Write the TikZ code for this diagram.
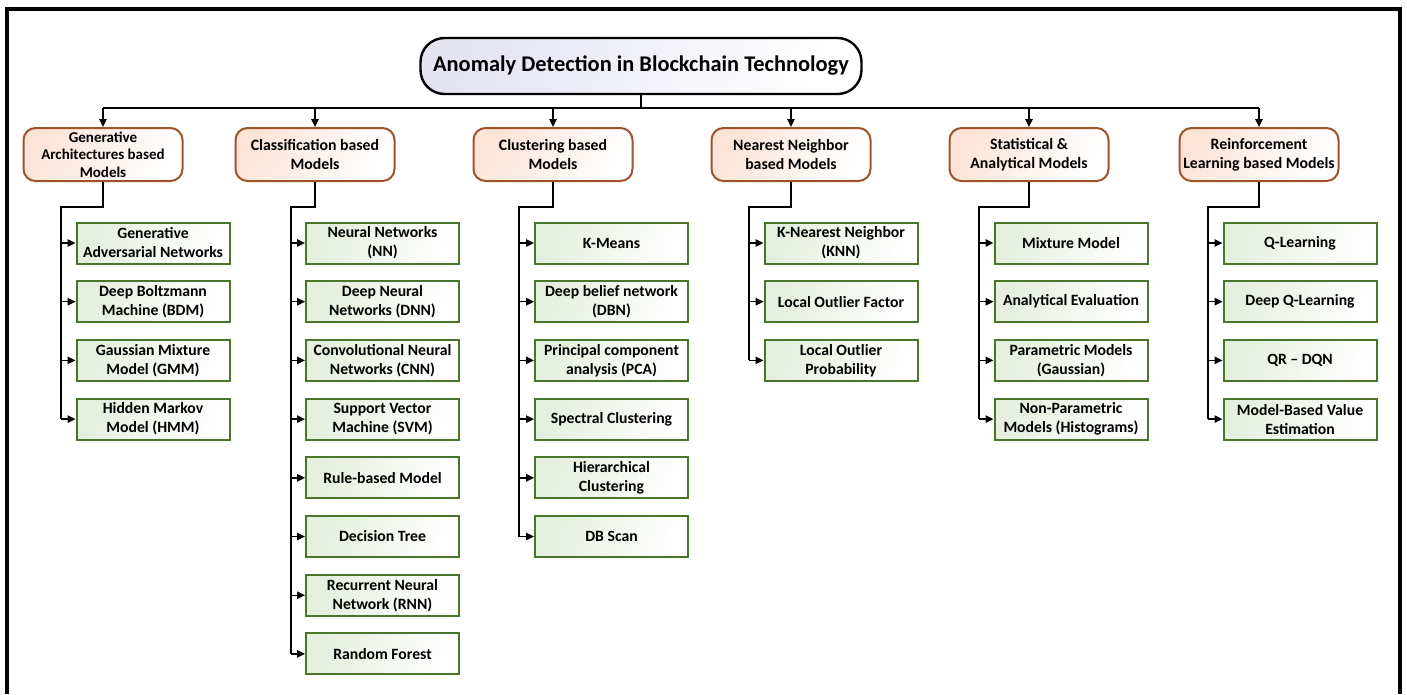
\documentclass[tikz,border=0pt]{standalone}
\usepackage{fontspec}
\setmainfont{Carlito}
\usetikzlibrary{arrows.meta}

\definecolor{leafline}{RGB}{74,118,44}
\definecolor{leaffill}{RGB}{228,239,221}
\definecolor{catline}{RGB}{160,82,40}
\definecolor{catfill}{RGB}{252,228,214}
\definecolor{rootfill}{RGB}{228,228,243}

\tikzset{
  x=1pt, y=-1pt,
  rootbox/.style={draw=black, line width=2.4pt, rounded corners=24pt,
    left color=rootfill, right color=white, shading angle=70,
    minimum width=441pt, minimum height=56pt, align=center,
    font=\fontsize{22.4}{26}\selectfont\bfseries},
  catbox/.style={draw=catline, line width=2pt, rounded corners=12pt,
    left color=catfill, right color=white, shading angle=60,
    minimum width=159pt, minimum height=53pt, align=center, inner sep=1pt,
    font=\fontsize{15.8}{19}\selectfont\bfseries},
  leafbox/.style={draw=leafline, line width=2pt,
    left color=leaffill, right color=white, shading angle=70,
    minimum width=153pt, minimum height=41pt, align=center, inner sep=1pt,
    font=\fontsize{15.7}{19}\selectfont\bfseries},
  link/.style={line width=1.4pt, black},
  arrowlink/.style={link, -{Triangle[length=8pt,width=7.5pt]}},
  frameline/.style={line width=3.6pt, black}
}

\begin{document}
\begin{tikzpicture}
\useasboundingbox (0,0) rectangle (1407,694);

% outer frame (open at the bottom)
\draw[frameline] (7,694) -- (7,9) -- (1400,9) -- (1400,694);

% root
\node[rootbox] (root) at (641,66) {Anomaly Detection in Blockchain Technology};

% categories
\node[catbox, font=\fontsize{15}{17.5}\selectfont\bfseries] (c1) at (103,154.5) {Generative\\Architectures based\\Models};
\node[catbox] (c2) at (315,154.5) {Classification based\\Models};
\node[catbox] (c3) at (553,154.5) {Clustering based\\Models};
\node[catbox] (c4) at (791,154.5) {Nearest Neighbor\\based Models};
\node[catbox] (c5) at (1029,154.5) {Statistical \&\\Analytical Models};
\node[catbox] (c6) at (1259,154.5) {Reinforcement\\Learning based Models};

% bus from the root to the categories
\coordinate (busL) at (103,108);
\coordinate (busR) at (1259,108);
\draw[link] (root.south) -- (root.south |- busL);
\draw[link] (busL) -- (busR);
\foreach \c in {c1,c2,c3,c4,c5,c6}
  \draw[arrowlink] (\c.north |- busL) -- (\c.north);

% leaves: column 1
\node[leafbox] (a1) at (153,243.0) {Generative\\Adversarial Networks};
\node[leafbox] (a2) at (153,301.7) {Deep Boltzmann\\Machine (BDM)};
\node[leafbox] (a3) at (153,360.4) {Gaussian Mixture\\Model (GMM)};
\node[leafbox] (a4) at (153,419.1) {Hidden Markov\\Model (HMM)};

% leaves: column 2
\node[leafbox] (b1) at (382.5,243.0) {Neural Networks\\(NN)};
\node[leafbox] (b2) at (382.5,301.7) {Deep Neural\\Networks (DNN)};
\node[leafbox] (b3) at (382.5,360.4) {Convolutional Neural\\Networks (CNN)};
\node[leafbox] (b4) at (382.5,419.1) {Support Vector\\Machine (SVM)};
\node[leafbox] (b5) at (382.5,477.8) {Rule-based Model};
\node[leafbox] (b6) at (382.5,536.5) {Decision Tree};
\node[leafbox] (b7) at (382.5,595.2) {Recurrent Neural\\Network (RNN)};
\node[leafbox] (b8) at (382.5,653.9) {Random Forest};

% leaves: column 3
\node[leafbox] (d1) at (611.5,243.0) {K-Means};
\node[leafbox] (d2) at (611.5,301.7) {Deep belief network\\(DBN)};
\node[leafbox] (d3) at (611.5,360.4) {Principal component\\analysis (PCA)};
\node[leafbox] (d4) at (611.5,419.1) {Spectral Clustering};
\node[leafbox] (d5) at (611.5,477.8) {Hierarchical\\Clustering};
\node[leafbox] (d6) at (611.5,536.5) {DB Scan};

% leaves: column 4
\node[leafbox] (e1) at (841,243.0) {K-Nearest Neighbor\\(KNN)};
\node[leafbox] (e2) at (841,301.7) {Local Outlier Factor};
\node[leafbox] (e3) at (841,360.4) {Local Outlier\\Probability};

% leaves: column 5
\node[leafbox] (f1) at (1071,243.0) {Mixture Model};
\node[leafbox] (f2) at (1071,301.7) {Analytical Evaluation};
\node[leafbox] (f3) at (1071,360.4) {Parametric Models\\(Gaussian)};
\node[leafbox] (f4) at (1071,419.1) {Non-Parametric\\Models (Histograms)};

% leaves: column 6
\node[leafbox] (g1) at (1300,243.0) {Q-Learning};
\node[leafbox] (g2) at (1300,301.7) {Deep Q-Learning};
\node[leafbox] (g3) at (1300,360.4) {QR – DQN};
\node[leafbox] (g4) at (1300,419.1) {Model-Based Value\\Estimation};

% trunks and branch arrows
\coordinate (t1) at (61,207);
\coordinate (t2) at (291,207);
\coordinate (t3) at (519,207);
\coordinate (t4) at (749,207);
\coordinate (t5) at (979,207);
\coordinate (t6) at (1208,207);

\foreach \cat/\tr/\last/\kids in {
    c1/t1/a4/{a1,a2,a3,a4},
    c2/t2/b8/{b1,b2,b3,b4,b5,b6,b7,b8},
    c3/t3/d6/{d1,d2,d3,d4,d5,d6},
    c4/t4/e3/{e1,e2,e3},
    c5/t5/f4/{f1,f2,f3,f4},
    c6/t6/g4/{g1,g2,g3,g4}} {
  \draw[link] (\cat.south) |- (\tr) -- (\tr |- \last.west);
  \foreach \k in \kids
    \draw[arrowlink] (\tr |- \k.west) -- (\k.west);
}
\end{tikzpicture}
\end{document}
